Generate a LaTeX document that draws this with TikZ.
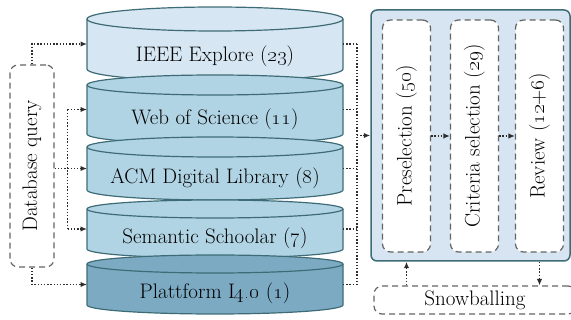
\documentclass[tikz,border=0pt]{standalone}
\usepackage{xcolor}
\usepackage{tikz}
\usetikzlibrary{arrows.meta}
\definecolor{cyla}{RGB}{214,230,242}
\definecolor{cylb}{RGB}{177,212,228}
\definecolor{cylc}{RGB}{124,170,195}
\definecolor{edge}{RGB}{62,108,118}
\definecolor{boxbg}{RGB}{214,229,241}
\definecolor{dgray}{RGB}{100,100,100}
\definecolor{dline}{RGB}{45,45,45}
\newcommand{\osn}[1]{\oldstylenums{#1}}

\begin{document}
\begin{tikzpicture}[x=1pt,y=-1pt,font=\fontsize{21}{25}\selectfont]
	\tikzstyle{cyl} = [draw=edge,line width=1.2pt];
	\tikzstyle{dbox} = [draw=dgray,dash pattern=on 6pt off 4pt,line width=1.2pt,rounded corners=8pt];
	\tikzstyle{dots} = [draw=dline,line width=1.4pt,dash pattern=on 1.4pt off 1.8pt];
	\tikzstyle{flow} = [dots,-{Latex[length=6.5pt,width=5.5pt]}];
	\useasboundingbox (0,0) rectangle (571,320);
	\foreach \yt/\yb/\ry/\col/\nm/\txt in {19/69/12/cyla/ieee/{IEEE Explore (\osn{23})},85/134/10/cylb/wos/{Web of Science (\osn{11})},147/190/10/cylb/acm/{ACM Digital Library (\osn{8})},209/249/9/cylb/sem/{Semantic Schoolar (\osn{7})},264/305/9/cylc/plat/{Plattform I\osn{4.0} (\osn{1})}}{
		\filldraw [cyl,fill=\col] (87,\yt) -- (87,\yb) arc [start angle=180,end angle=0,x radius=128,y radius=\ry] -- (343,\yt) arc [start angle=0,end angle=-180,x radius=128,y radius=\ry] -- cycle;
		\draw [cyl] (87,\yt) arc [start angle=180,end angle=0,x radius=128,y radius=\ry];
		\coordinate (\nm-w) at (87,{(\yt+\yb)/2});
		\coordinate (\nm-e) at (343,{(\yt+\yb)/2});
		\node (\nm) at (215,{(\yt+\yb)/2+\ry}) {\txt};
	}
	\node (dbq) at (32,166) [dbox,minimum width=44pt,minimum height=202pt] {\rotatebox{90}{Database query}};
	\node (proc) at (470.5,135.5) [draw=edge,fill=boxbg,line width=1.5pt,rounded corners=6pt,minimum width=199pt,minimum height=251pt] {};
	\node (pre) at (406.5,136) [dbox,fill=white,minimum width=48pt,minimum height=232pt] {\rotatebox{90}{Preselection (\osn{50})}};
	\node (crit) at (474.5,136) [dbox,fill=white,minimum width=48pt,minimum height=232pt] {\rotatebox{90}{Criteria selection (\osn{29})}};
	\node (rev) at (539.5,136) [dbox,fill=white,minimum width=48pt,minimum height=232pt] {\rotatebox{90}{Review (\osn{12}+\osn{6})}};
	\node (snow) at (475,300) [dbox,minimum width=202pt,minimum height=28pt] {Snowballing};
	\draw [flow] (dbq.north) |- (ieee-w);
	\draw [flow] (dbq.south) |- (plat-w);
	\draw [flow] (dbq.east |- acm-w) -- (acm-w);
	\path (dbq.east) ++(13,0) coordinate (lsplit);
	\draw [dots] (lsplit |- wos-w) -- (lsplit |- sem-w);
	\draw [flow] (lsplit |- wos-w) -- (wos-w);
	\draw [flow] (lsplit |- sem-w) -- (sem-w);
	\path (ieee-e) ++(14,0) coordinate (rsplit);
	\foreach \nm in {ieee,wos,acm,sem,plat}
		\draw [dots] (\nm-e) -- (rsplit |- \nm-e);
	\draw [dots] (rsplit) -- (rsplit |- plat-e);
	\draw [flow] (rsplit |- proc.west) -- (proc.west);
	\draw [flow] (pre) -- (crit);
	\draw [flow] (crit) -- (rev);
	\draw [flow] (snow.north -| pre) -- (proc.south -| pre);
	\draw [flow] (proc.south -| rev) -- (snow.north -| rev);
\end{tikzpicture}
\end{document}
